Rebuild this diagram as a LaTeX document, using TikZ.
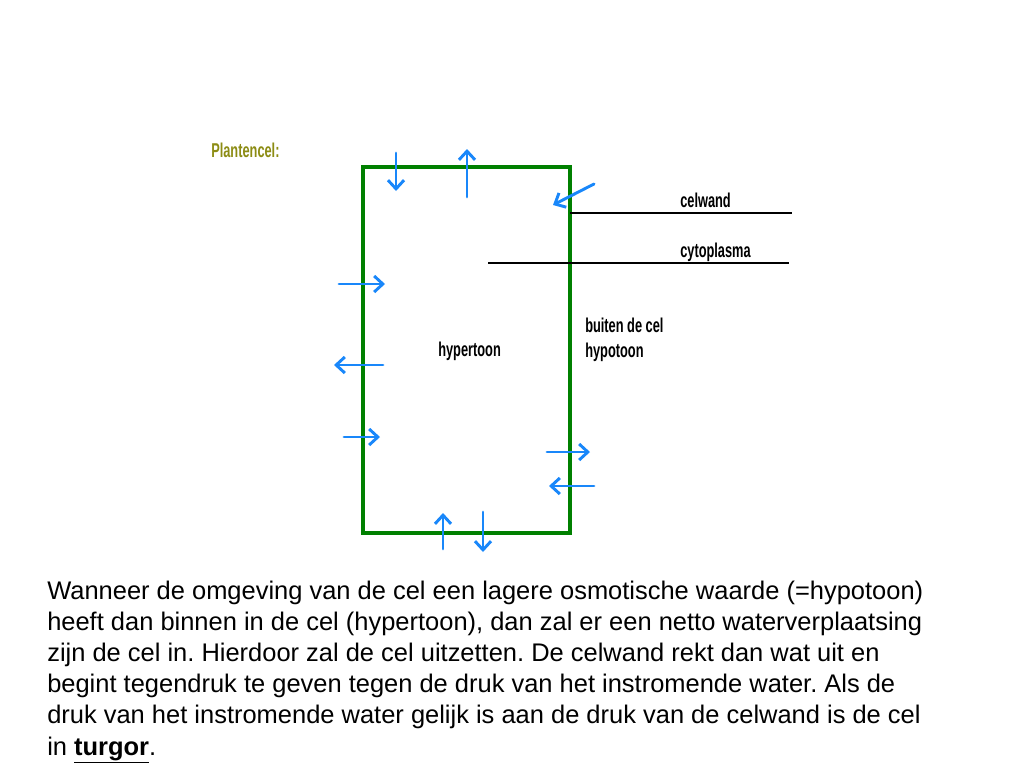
\documentclass[tikz,border=0pt]{standalone}
\usepackage{fontspec}
\setmainfont{Liberation Sans}
\usetikzlibrary{arrows.meta}
\definecolor{cellgreen}{RGB}{0,128,0}
\definecolor{flowblue}{RGB}{25,135,250}
\definecolor{titleolive}{RGB}{140,140,20}
\tikzset{
  wall/.style={draw=cellgreen, line width=3.2pt, line join=miter},
  flow/.style={draw=flowblue, line width=2.2pt, line cap=round,
    -{Straight Barb[length=6.5pt, width=12pt, line width=2.2pt]}},
  leader/.style={draw=black, line width=0.8pt},
  lbl/.style={anchor=base west, inner sep=0pt, font=\fontsize{15}{17}\selectfont\bfseries},
}
\newcommand{\cond}[1]{\scalebox{0.64}[1]{#1}}
\begin{document}
\begin{tikzpicture}[x=0.75pt, y=-0.75pt]
\useasboundingbox (0,0) rectangle (1024,768);
% cell wall
\coordinate (tl) at (363,167);
\coordinate (tr) at (570,167);
\coordinate (br) at (570,533);
\coordinate (bl) at (363,533);
\draw[wall] (tl) -- (tr) -- (br) -- (bl) -- cycle;
% leader lines
\coordinate (cwA) at (570,213); \coordinate (cwB) at (792,213);
\coordinate (cpA) at (488,263); \coordinate (cpB) at (789,263);
\draw[leader] (cwA) -- (cwB);
\draw[leader] (cpA) -- (cpB);
% labels
\node[lbl, text=titleolive] (title) at (211,157) {\cond{Plantencel:}};
\node[lbl] (celwand) at (680,207) {\cond{celwand}};
\node[lbl] (cyto) at (680,257) {\cond{cytoplasma}};
\node[lbl] (buiten) at (585,332) {\cond{buiten de cel}};
\node[lbl] (hypo) at (585,357) {\cond{hypotoon}};
\node[lbl] (hyper) at (438,356) {\cond{hypertoon}};
% arrows
\coordinate (a1s) at (396,153); \coordinate (a1e) at (396,191);
\coordinate (a2s) at (467,197); \coordinate (a2e) at (467,149);
\coordinate (a3s) at (594,184); \coordinate (a3e) at (553,205);
\coordinate (a4s) at (339,284); \coordinate (a4e) at (385,284);
\coordinate (a5s) at (383,365); \coordinate (a5e) at (334,365);
\coordinate (a6s) at (344,437); \coordinate (a6e) at (380,437);
\coordinate (a7s) at (547,452); \coordinate (a7e) at (590,452);
\coordinate (a8s) at (594,486); \coordinate (a8e) at (549,486);
\coordinate (a9s) at (443,549); \coordinate (a9e) at (443,513);
\coordinate (a10s) at (483,512); \coordinate (a10e) at (483,552);
\foreach \i in {1,...,10} \draw[flow] (a\i s) -- (a\i e);
% paragraph
\node[anchor=base west, inner sep=0pt, align=left,
  font=\fontsize{19.1pt}{23.4pt}\selectfont\frenchspacing] (para) at (47,755) {%
Wanneer de omgeving van de cel een lagere osmotische waarde (=hypotoon)\\
heeft dan binnen in de cel (hypertoon), dan zal er een netto waterverplaatsing\\
zijn de cel in. Hierdoor zal de cel uitzetten. De celwand rekt dan wat uit en\\
begint tegendruk te geven tegen de druk van het instromende water. Als de\\
druk van het instromende water gelijk is aan de druk van de celwand is de cel\\
in \underline{\textbf{turgor}}.};
\end{tikzpicture}
\end{document}
